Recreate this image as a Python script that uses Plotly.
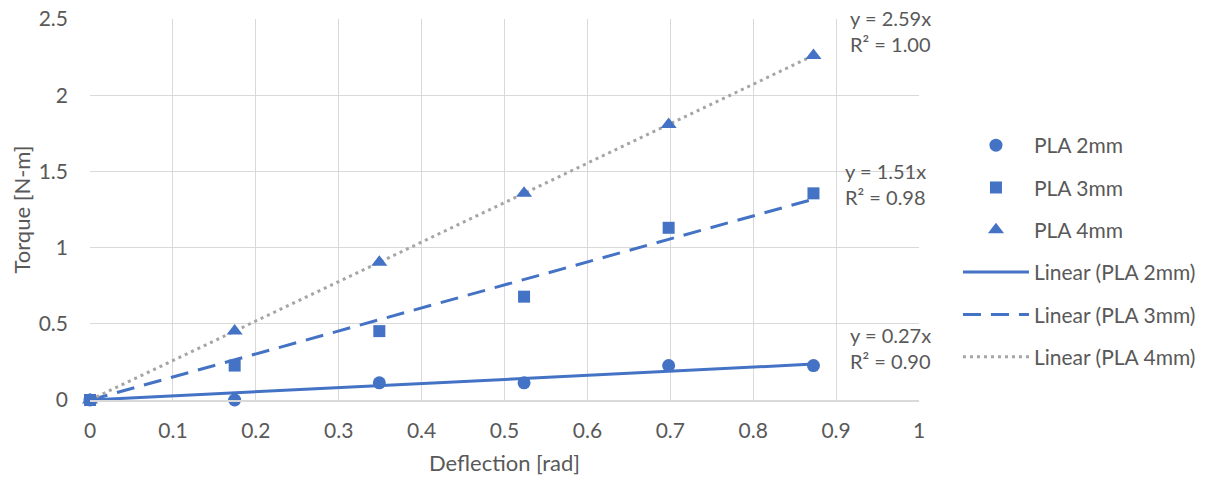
import plotly.graph_objects as go

# Data
deflection = [0, 0.1745, 0.349, 0.5236, 0.698, 0.8727]
pla_2mm = [0, 0, 0.113, 0.113, 0.226, 0.226]
pla_3mm = [0, 0.226, 0.452, 0.678, 1.13, 1.356]
pla_4mm = [0, 0.452, 0.904, 1.356, 1.808, 2.26]
series_names = ["PLA 2mm", "PLA 3mm", "PLA 4mm"]
slopes = [0.27, 1.51, 2.59]
r2 = [0.90, 0.98, 1.00]

BLUE = "#4472C4"
GRAY = "#A5A5A5"
TXT = "#595959"
FONT = "Lato"

fig = go.Figure()

dashes = ["solid", "18px,10px", "3px,4px"]
colors = [BLUE, BLUE, GRAY]
xfit = [deflection[0], deflection[-1]]
for i, name in enumerate(series_names):
    fig.add_trace(go.Scatter(x=xfit, y=[slopes[i] * v for v in xfit], mode="lines",
                             name=f"Linear ({name})",
                             line=dict(color=colors[i], dash=dashes[i], width=3),
                             legendgroup="lin" + name, legendrank=4 + i))

symbols = ["circle", "square", "triangle-up"]
sizes = [13, 12, 14]
for i, (name, ys) in enumerate(zip(series_names, [pla_2mm, pla_3mm, pla_4mm])):
    fig.add_trace(go.Scatter(x=deflection, y=ys, mode="markers", name=name,
                             marker=dict(symbol=symbols[i], size=sizes[i], color=BLUE),
                             cliponaxis=False,
                             legendgroup=name, legendrank=i + 1))

# Trendline labels
label_pos = [(0.915, 0.340), (0.910, 1.418), (0.915, 2.420)]
for i in range(3):
    lx, ly = label_pos[i]
    fig.add_annotation(x=lx, y=ly, xref="x", yref="y", text=f"y = {slopes[i]:.2f}x",
                       showarrow=False, xanchor="left", yanchor="bottom", borderpad=0,
                       font=dict(family=FONT, size=20, color=TXT))
    fig.add_annotation(x=lx, y=ly, xref="x", yref="y", text=f"R² = {r2[i]:.2f}",
                       showarrow=False, xanchor="left", yanchor="top", borderpad=0,
                       font=dict(family=FONT, size=20, color=TXT))

# page body has an 8px margin; compensate so the plot area lands at x 90-919, y 19-400
fig.update_layout(
    width=1209, height=481,
    margin=dict(l=82, r=298, t=11, b=89),
    paper_bgcolor="white", plot_bgcolor="white",
    font=dict(family=FONT, color=TXT, size=20),
    legend=dict(x=1.047, y=0.391, xanchor="left", yanchor="middle",
                font=dict(family=FONT, size=21, color=TXT),
                traceorder="grouped", tracegroupgap=12, itemwidth=66,
                bgcolor="rgba(0,0,0,0)"),
    xaxis=dict(range=[0, 1], dtick=0.1, showgrid=True, gridcolor="#D9D9D9", gridwidth=1,
               zeroline=False, showline=True, linecolor="#D9D9D9", linewidth=2, mirror=False,
               ticks="", ticklabelstandoff=11, tickfont=dict(size=21, color=TXT),
               automargin=False,
               title=dict(text="Deflection [rad]", font=dict(size=22, color=TXT), standoff=14)),
    yaxis=dict(range=[0, 2.5], dtick=0.5, showgrid=True, gridcolor="#D9D9D9", gridwidth=1,
               zeroline=False, showline=False,
               ticks="", ticklabelstandoff=21, tickfont=dict(size=21, color=TXT),
               ticklabeloverflow="allow", automargin=False,
               title=dict(text="Torque [N-m]", font=dict(size=22, color=TXT), standoff=18)),
)

fig.write_html("out.html", config={"displayModeBar": False})
